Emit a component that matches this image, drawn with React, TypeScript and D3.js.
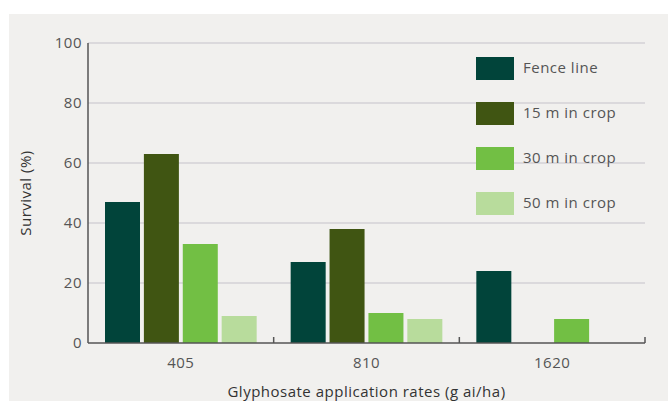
import React, { useRef, useEffect } from 'react';
import * as d3 from 'd3';

const rates = ['405', '810', '1620'];
const seriesNames = ['Fence line', '15 m in crop', '30 m in crop', '50 m in crop'];
const fenceLine = [47, 27, 24];
const m15 = [63, 38, 0];
const m30 = [33, 10, 8];
const m50 = [9, 8, 0];
const yTicks = [0, 20, 40, 60, 80, 100];
const colors = ['#01443a', '#405512', '#72bf44', '#b8dc9c'];

const seriesValues = [fenceLine, m15, m30, m50];

function App() {
    const svgRef = useRef<SVGSVGElement>(null);
    const width = 668;
    const height = 401;
    const margin = { top: 43, left: 88, right: 23, bottom: 58 };
    const font = '"Open Sans", Lato, sans-serif';

    useEffect(() => {
        const svg = d3.select(svgRef.current);
        svg.selectAll('*').remove();

        svg.append('rect')
            .attr('x', 9).attr('y', 14)
            .attr('width', width - 9).attr('height', height - 14)
            .attr('fill', '#f1f0ee');

        const x0 = d3.scaleBand()
            .domain(rates)
            .range([margin.left, width - margin.right]);

        const x1 = d3.scaleBand()
            .domain(seriesNames)
            .range([17, x0.bandwidth() - 17])
            .paddingInner(0.1);

        const y = d3.scaleLinear()
            .domain([0, 100])
            .range([height - margin.bottom, margin.top]);

        // gridlines
        svg.append('g')
            .selectAll('line')
            .data(yTicks.filter(d => d > 0))
            .join('line')
            .attr('x1', margin.left)
            .attr('x2', width - margin.right)
            .attr('y1', d => y(d))
            .attr('y2', d => y(d))
            .attr('stroke', '#d3d2d6')
            .attr('stroke-width', 1.5);

        // bars
        const rows = rates.map((r, i) => ({ rate: r, vals: seriesValues.map(s => s[i]) }));
        svg.append('g')
            .selectAll('g')
            .data(rows)
            .join('g')
            .attr('transform', d => 'translate(' + x0(d.rate) + ',0)')
            .selectAll('rect')
            .data(d => d.vals.map((v, j) => ({ name: seriesNames[j], v, c: colors[j] })).filter(b => b.v > 0))
            .join('rect')
            .attr('x', d => x1(d.name)!)
            .attr('width', x1.bandwidth())
            .attr('y', d => y(d.v))
            .attr('height', d => y(0) - y(d.v))
            .attr('fill', d => d.c);

        const txt = (sel: any, color: string) => sel
            .attr('font-family', font)
            .attr('font-size', 15)
            .attr('letter-spacing', 0.5)
            .attr('fill', color);

        // y axis
        svg.append('line')
            .attr('x1', margin.left).attr('x2', margin.left)
            .attr('y1', y(100)).attr('y2', y(0))
            .attr('stroke', '#555').attr('stroke-width', 1.5);

        txt(svg.append('g')
            .selectAll('text')
            .data(yTicks)
            .join('text')
            .attr('x', margin.left - 6)
            .attr('y', d => y(d) + 5)
            .attr('text-anchor', 'end'), '#555')
            .text(d => d);

        // x axis
        svg.append('line')
            .attr('x1', margin.left).attr('x2', width - margin.right)
            .attr('y1', y(0)).attr('y2', y(0))
            .attr('stroke', '#555').attr('stroke-width', 1.5);

        const edges = rates.map(r => x0(r)! + x0.bandwidth());
        svg.append('g')
            .selectAll('line')
            .data(edges)
            .join('line')
            .attr('x1', d => d).attr('x2', d => d)
            .attr('y1', y(0)).attr('y2', y(0) - 6)
            .attr('stroke', '#555').attr('stroke-width', 1.5);

        txt(svg.append('g')
            .selectAll('text')
            .data(rates)
            .join('text')
            .attr('x', d => x0(d)! + x0.bandwidth() / 2)
            .attr('y', 368)
            .attr('text-anchor', 'middle'), '#555')
            .text(d => d);

        txt(svg.append('text')
            .attr('x', (margin.left + width - margin.right) / 2)
            .attr('y', 397)
            .attr('text-anchor', 'middle'), '#333')
            .text('Glyphosate application rates (g ai/ha)');

        txt(svg.append('text')
            .attr('transform', 'translate(31,' + y(50) + ') rotate(-90)')
            .attr('text-anchor', 'middle'), '#333')
            .text('Survival (%)');

        // legend
        const legend = svg.append('g')
            .selectAll('g')
            .data(seriesNames)
            .join('g')
            .attr('transform', (d, i) => 'translate(476,' + (57 + i * 45) + ')');
        legend.append('rect')
            .attr('width', 38).attr('height', 23)
            .attr('fill', (d, i) => colors[i]);
        txt(legend.append('text')
            .attr('x', 47).attr('y', 16), '#555')
            .text(d => d);
    }, []);

    return (
        <div style={{ position: 'absolute', left: 0, top: 0 }}>
            <svg ref={svgRef} width={width} height={height} style={{ display: 'block' }}></svg>
        </div>
    );
}

export default App;
